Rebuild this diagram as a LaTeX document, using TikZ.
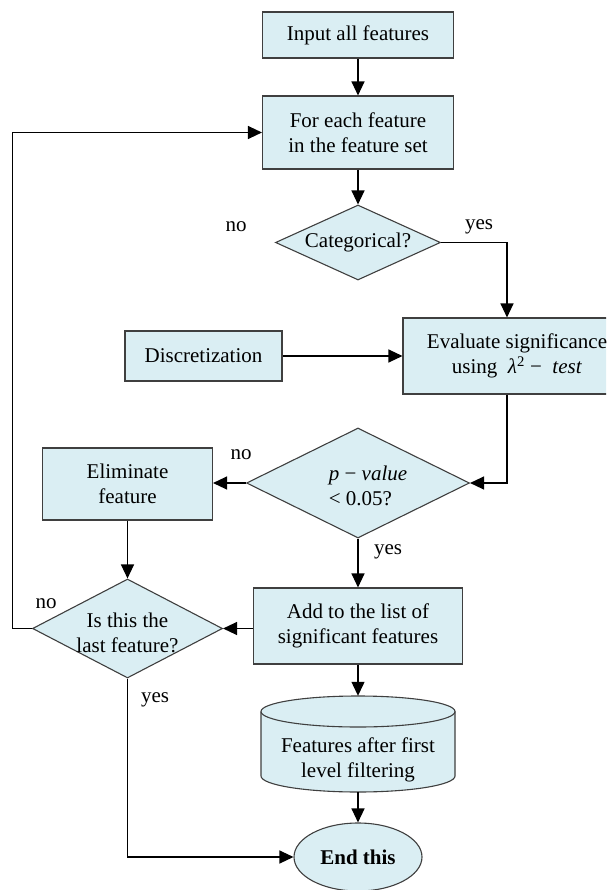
\documentclass[tikz,border=0pt]{standalone}
\usepackage{fontspec}
\setmainfont{Liberation Serif}
\usetikzlibrary{shapes.geometric,arrows.meta}
\definecolor{boxfill}{HTML}{DAEEF3}
\definecolor{boxline}{HTML}{3F3F3F}
\tikzset{
  proc/.style={rectangle, draw=boxline, fill=boxfill, line width=1.1pt, align=center, inner sep=0pt},
  decision/.style={diamond, draw=boxline, fill=boxfill, line width=1.1pt, inner sep=0pt},
  txt/.style={align=center, inner sep=0pt},
  conn/.style={line width=1.2pt, -{Triangle[length=14pt,width=13pt]}},
  lbl/.style={inner sep=0pt}
}
\begin{document}
\begin{tikzpicture}[x=1pt,y=-1pt, every node/.style={font=\fontsize{21pt}{25pt}\selectfont}]
\useasboundingbox (0,0) rectangle (606,890);
\clip (0,0) rectangle (606,890);

\node[proc, minimum width=191pt, minimum height=46pt] (input) at (358,35) {Input all features};
\node[proc, minimum width=191pt, minimum height=73pt] (each) at (358,132.5) {For each feature\\in the feature set};
\node[decision, minimum width=165pt, minimum height=75pt] (cat) at (358,242.5) {};
\node[txt] (cattext) at (cat) {Categorical?};
\node[proc, minimum width=228pt, minimum height=76pt] (eval) at (517,356) {Evaluate significance\\using\ \ \textit{λ}\textsuperscript{2} − \ \textit{test}};
\node[proc, minimum width=157pt, minimum height=50pt] (disc) at (203.5,356) {Discretization};
\node[decision, minimum width=223pt, minimum height=110pt] (pv) at (358,483) {};
\node[txt, align=left] (pvtext) at (368,486) {\textit{p} − \textit{value}\\< 0.05?};
\node[proc, minimum width=170pt, minimum height=72pt] (elim) at (127.5,484) {Eliminate\\feature};
\node[proc, minimum width=209pt, minimum height=76pt] (add) at (358,626) {Add to the list of\\significant features};
\node[decision, minimum width=190pt, minimum height=99pt] (last) at (127.5,628.5) {};
\node[txt] (lasttext) at (127.5,633) {Is this the\\last feature?};

% cylinder
\path[draw=boxline, fill=boxfill, line width=1.1pt]
  (261,711.5) -- (261,776) arc[start angle=180,end angle=360,x radius=97pt,y radius=16pt]
  -- (455,711.5) arc[start angle=0,end angle=180,x radius=97pt,y radius=15.5pt] -- cycle;
\draw[boxline, line width=1.1pt] (261,711.5) arc[start angle=180,end angle=360,x radius=97pt,y radius=15.5pt];
\node[inner sep=0pt, minimum width=194pt, minimum height=96pt] (cyl) at (358,744) {};
\node[txt] (cyltext) at (358,760) {Features after first\\level filtering};

\node[ellipse, draw=boxline, fill=boxfill, line width=1.1pt, minimum width=128pt, minimum height=68pt, inner sep=0pt, font=\fontsize{21pt}{25pt}\selectfont\bfseries] (end) at (358,857) {End this};

% labels
\node[lbl] (no1) at (236,227) {no};
\node[lbl] (yes1) at (479,227) {yes};
\node[lbl] (no2) at (241,455) {no};
\node[lbl] (yes2) at (388,552) {yes};
\node[lbl] (no3) at (46,604) {no};
\node[lbl] (yes3) at (155,700) {yes};

% connectors
\draw[conn] (input.south) -- (each.north);
\draw[conn] (each.south) -- (cat.north);
\draw[conn] (cat.east) -| ([xshift=-10pt]eval.north);
\draw[conn] (disc.east) -- (eval.west);
\draw[conn] ([xshift=-10pt]eval.south) |- (pv.east);
\draw[conn] (pv.west) -- (elim.east |- pv.west);
\draw[conn] (pv.south) -- (add.north);
\draw[conn] (elim.south) -- (last.north);
\draw[conn] (add.west |- last.east) -- (last.east);
\draw[conn] (last.west) -- ++(-19.5,0) |- (each.west);
\draw[conn] (last.south) |- (end.west);
\draw[conn] (add.south) -- (cyl.north);
\draw[conn] (cyl.south) -- (end.north);
\end{tikzpicture}
\end{document}
